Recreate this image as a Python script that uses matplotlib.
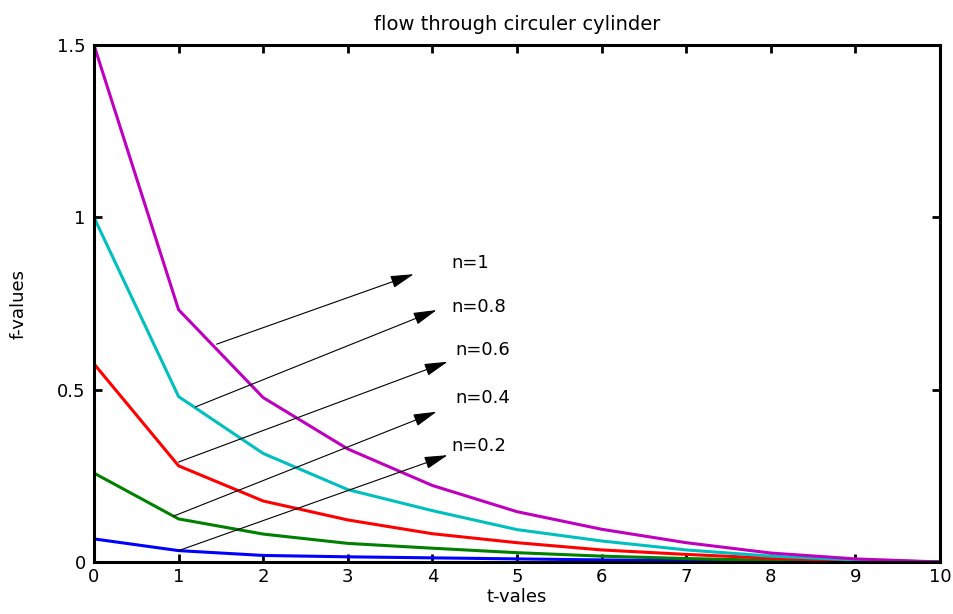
import matplotlib.pyplot as plt
import numpy as np

plt.rcParams['font.family'] = ['DejaVu Sans']

# data
t = [0, 1, 2, 3, 4, 5, 6, 7, 8, 9, 10]
f_n1 = [1.5, 0.732, 0.477, 0.328, 0.222, 0.146, 0.095, 0.056, 0.026, 0.009, 0.0]
f_n08 = [1.0, 0.480, 0.315, 0.210, 0.149, 0.094, 0.061, 0.035, 0.017, 0.006, 0.0]
f_n06 = [0.575, 0.279, 0.177, 0.122, 0.082, 0.056, 0.035, 0.022, 0.011, 0.004, 0.0]
f_n04 = [0.258, 0.125, 0.081, 0.054, 0.040, 0.027, 0.017, 0.010, 0.005, 0.002, 0.0]
f_n02 = [0.067, 0.033, 0.019, 0.015, 0.012, 0.009, 0.006, 0.004, 0.002, 0.001, 0.0]

labels = ['n=1', 'n=0.8', 'n=0.6', 'n=0.4', 'n=0.2']
arrow_start = [(1.45, 0.632), (1.2, 0.45), (1.0, 0.29), (0.94, 0.133), (1.0, 0.033)]
arrow_end = [(3.78, 0.835), (4.05, 0.731), (4.18, 0.581), (4.05, 0.436), (4.18, 0.31)]
label_pos = [(4.22, 0.867), (4.22, 0.74), (4.27, 0.615), (4.27, 0.476), (4.22, 0.336)]

fig = plt.figure(figsize=(9.54, 6.14), dpi=100)
ax = fig.add_axes([0.0985, 0.0847, 0.8868, 0.842])

lw = 2.2
ax.plot(t, f_n02, color='#0000FF', lw=lw)
ax.plot(t, f_n04, color='#008000', lw=lw)
ax.plot(t, f_n06, color='#FF0000', lw=lw)
ax.plot(t, f_n08, color='#00BFBF', lw=lw)
ax.plot(t, f_n1, color='#BF00BF', lw=lw)

# arrows with their labels
for lab, s, e, p in zip(labels, arrow_start, arrow_end, label_pos):
    ax.annotate('', xy=e, xytext=s,
                arrowprops=dict(arrowstyle='-|>,head_length=0.9,head_width=0.24',
                                color='k', lw=0.8, mutation_scale=16,
                                shrinkA=0, shrinkB=0))
    ax.text(p[0], p[1], lab, fontsize=13, va='center', ha='left')

ax.set_xlim(0, 10)
ax.set_ylim(0, 1.5)
ax.set_xticks(range(0, 11))
ax.set_yticks([0, 0.5, 1, 1.5])
ax.set_yticklabels(['0', '0.5', '1', '1.5'])
ax.tick_params(direction='in', top=True, right=True, length=6, width=2,
               labelsize=13)
ax.tick_params(axis='x', pad=4)
ax.tick_params(axis='y', pad=6)
for sp in ax.spines.values():
    sp.set_linewidth(2.2)

ax.set_title('flow through circuler cylinder', fontsize=14, pad=11)
ax.set_xlabel('t-vales', fontsize=13)
ax.set_ylabel('f-values', fontsize=13)
ax.xaxis.set_label_coords(0.5, -0.05)
ax.yaxis.set_label_coords(-0.078, 0.5)

plt.savefig('out.png', dpi=100)
